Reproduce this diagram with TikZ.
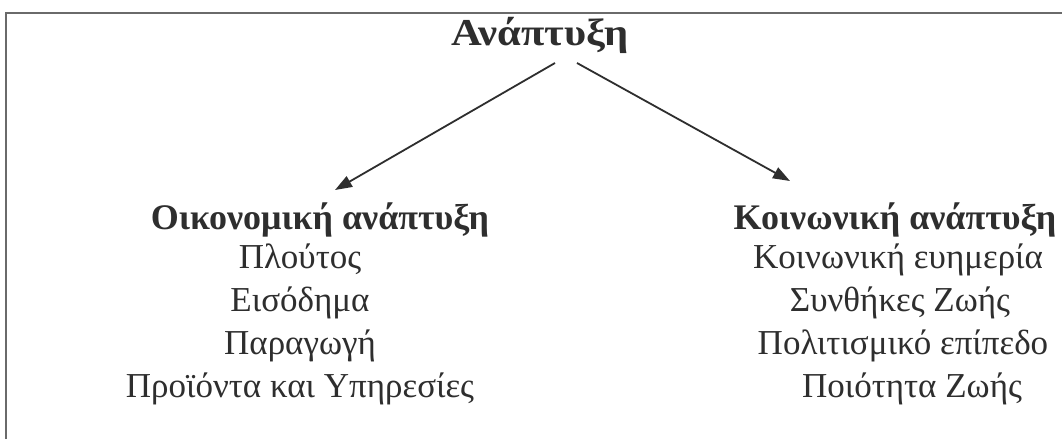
\documentclass[tikz,border=0pt]{standalone}
\usepackage{fontspec}
\setmainfont{Liberation Serif}
\newfontfamily\titlefont[FakeStretch=1.12]{Liberation Serif}
\usetikzlibrary{arrows.meta}
\definecolor{ink}{HTML}{2E2E2E}
\definecolor{framegray}{HTML}{6A6A6A}
\tikzset{
  txt/.style={anchor=base, inner sep=0pt, text=ink, font=\fontsize{35}{40}\selectfont},
  hdr/.style={txt, font=\fontsize{36}{40}\selectfont\bfseries},
  ttl/.style={txt, font=\fontsize{38}{42}\selectfont\titlefont\bfseries},
  arr/.style={draw=ink, line width=1.8pt, -{Triangle[length=17pt,width=12pt]}},
  frameline/.style={draw=framegray, line width=1.6pt}
}
\begin{document}
\begin{tikzpicture}[x=1pt,y=-1pt]
\useasboundingbox (0,0) rectangle (1062,439);
\fill[white] (0,0) rectangle (1062,439);
\draw[frameline] (6,439) -- (6,13) -- (1062,13);
\node[ttl] (top) at (540,45) {Ανάπτυξη};
\node[hdr] (econ) at (320,229) {Οικονομική ανάπτυξη};
\node[txt] (l1) at (300,268) {Πλούτος};
\node[txt] (l2) at (300,311) {Εισόδημα};
\node[txt] (l3) at (300,354) {Παραγωγή};
\node[txt] (l4) at (300,397) {Προϊόντα και Υπηρεσίες};
\node[hdr] (soc) at (895,229) {Κοινωνική ανάπτυξη};
\node[txt] (r1) at (898,268) {Κοινωνική ευημερία};
\node[txt] (r2) at (900,311) {Συνθήκες Ζωής};
\node[txt] (r3) at (903,354) {Πολιτισμικό επίπεδο};
\node[txt] (r4) at (912,397) {Ποιότητα Ζωής};
\draw[arr] ([shift={(15pt,-18pt)}]top.base) -- ([shift={(15pt,39pt)}]econ.base);
\draw[arr] ([shift={(37pt,-18pt)}]top.base) -- ([shift={(-105pt,48pt)}]soc.base);
\end{tikzpicture}
\end{document}
